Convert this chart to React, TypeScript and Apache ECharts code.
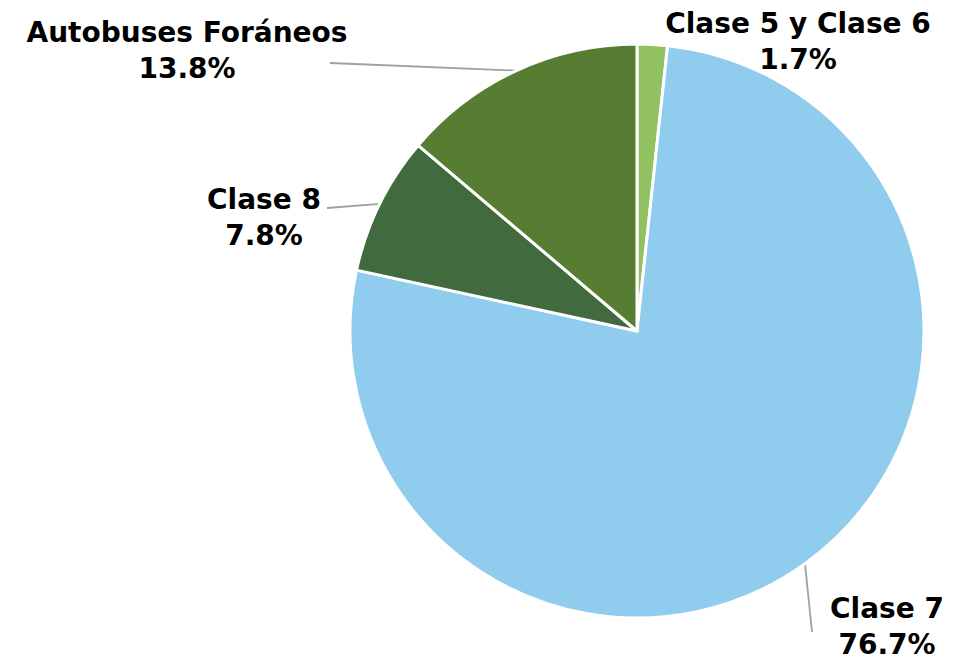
import React, { useEffect, useRef } from "react";
import * as echarts from "echarts";

const categories = ["Clase 5 y Clase 6", "Clase 7", "Clase 8", "Autobuses Foráneos"];
const values = [1.7, 76.7, 7.8, 13.8];
const colors = ["#92c162", "#90cced", "#416a3e", "#567d32"];
// label anchor (block center) and leader line end, per slice
const labelPos: [number, number][] = [
  [798, 41],
  [887, 626],
  [264, 217],
  [187, 50],
];
const lineEnd: ([number, number] | null)[] = [null, [812, 632], [327, 208], [330, 63]];

export default function App() {
  const ref = useRef<HTMLDivElement>(null);
  useEffect(() => {
    if (!ref.current) return;
    const chart = echarts.init(ref.current, null, { renderer: "svg" });
    chart.setOption({
      animation: false,
      backgroundColor: "#ffffff",
      series: [
        {
          type: "pie",
          center: [637, 331],
          radius: [0, 287],
          startAngle: 90,
          clockwise: true,
          data: categories.map((name, i) => ({
            name,
            value: values[i],
            itemStyle: { color: colors[i] },
            labelLine: { show: lineEnd[i] !== null },
          })),
          itemStyle: { borderColor: "#ffffff", borderWidth: 3 },
          label: {
            show: true,
            position: "outside",
            formatter: (p: any) => `${p.name}\n${values[p.dataIndex].toFixed(1)}%`,
            fontFamily: "DejaVu Sans",
            fontWeight: "bold",
            fontSize: 28,
            lineHeight: 36,
            color: "#000000",
            align: "center",
          },
          labelLine: {
            show: true,
            length: 10,
            length2: 0,
            lineStyle: { color: "#a0a0a0", width: 1.8 },
          },
          labelLayout: (params: any) => {
            const i = params.dataIndex;
            const res: any = {
              x: labelPos[i][0],
              y: labelPos[i][1],
              align: "center",
              verticalAlign: "middle",
            };
            const e = lineEnd[i];
            if (e && params.labelLinePoints) {
              const p0 = params.labelLinePoints[0];
              res.labelLinePoints = [p0, e, e];
            }
            return res;
          },
        },
      ],
    });
    return () => chart.dispose();
  }, []);
  return (
    <div
      ref={ref}
      style={{ position: "fixed", left: 0, top: 0, width: 960, height: 664 }}
    />
  );
}
